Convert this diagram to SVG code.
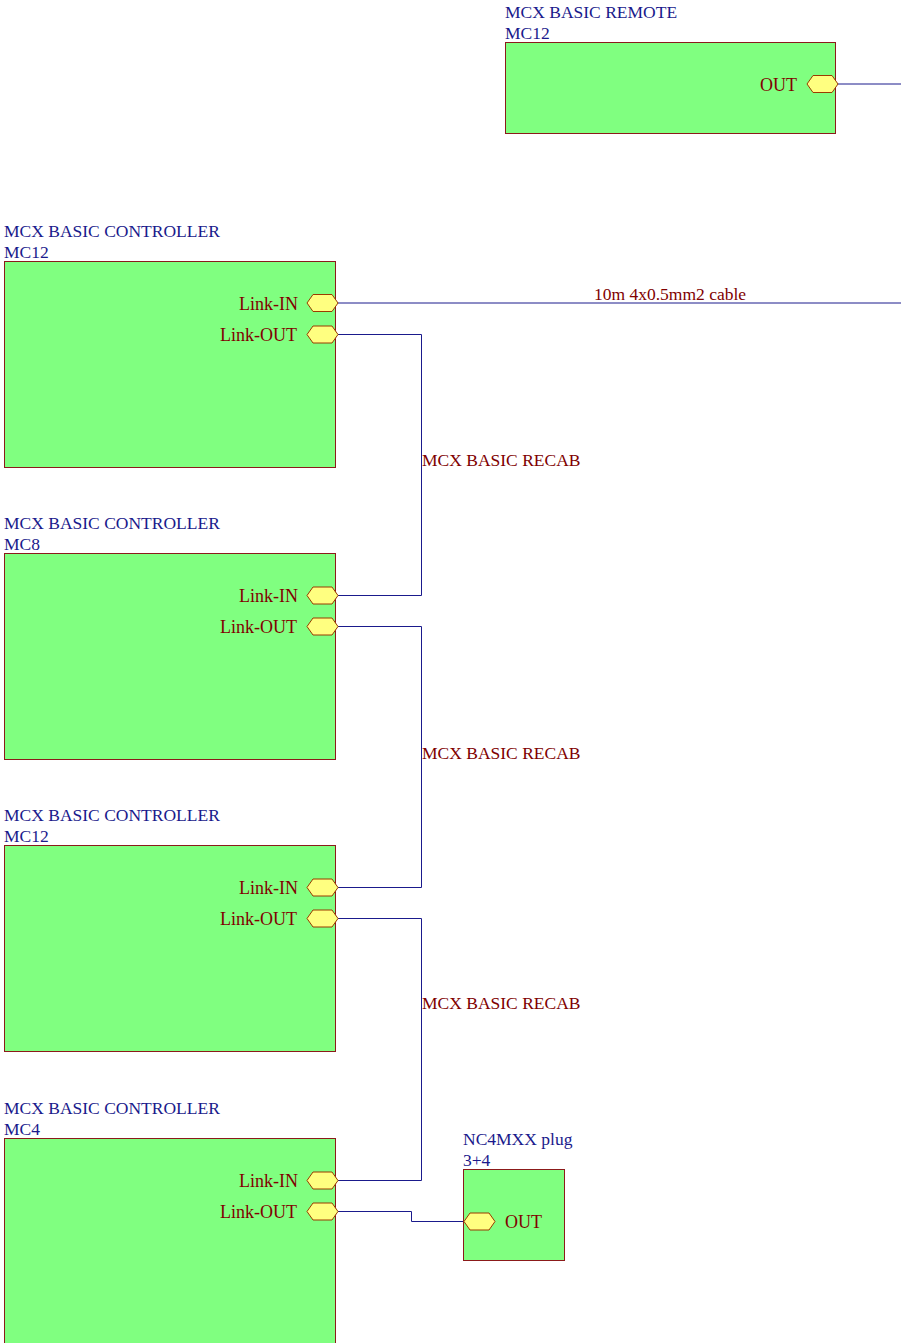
<svg xmlns="http://www.w3.org/2000/svg" width="901" height="1343" viewBox="0 0 901 1343">
<defs>
<style>
.box{fill:#80ff80;stroke:#8b1a1a;stroke-width:1}
.port{fill:#ffff80;stroke:#9a3b00;stroke-width:1}
.title{font-family:"Liberation Serif","Times New Roman",serif;font-size:17.5px;fill:#1a1a8c}
.plabel{font-family:"Liberation Serif","Times New Roman",serif;font-size:18px;fill:#800000}
.clabel{font-family:"Liberation Serif","Times New Roman",serif;font-size:17.5px;fill:#800000}
.wire{fill:none;stroke:#1a1a8c;stroke-width:1}
</style>
<polygon id="hexR" class="port" points="-31,0 -25,-8.5 -6,-8.5 0,0 -6,8.5 -25,8.5"/>
</defs>
<g id="connectors">
<path class="wire" d="M838,84 H901"/>
<path class="wire" d="M338,303 H901"/>
<text class="clabel" x="670" y="300" text-anchor="middle">10m 4x0.5mm2 cable</text>
<path class="wire" d="M338,334.5 H421.5 V595.5 H338"/>
<text class="clabel" x="422" y="466">MCX BASIC RECAB</text>
<path class="wire" d="M338,626.5 H421.5 V887.5 H338"/>
<text class="clabel" x="422" y="759">MCX BASIC RECAB</text>
<path class="wire" d="M338,918.5 H421.5 V1180.5 H338"/>
<text class="clabel" x="422" y="1009">MCX BASIC RECAB</text>
<path class="wire" d="M338,1211.5 H411.5 V1221.5 H463"/>
</g>
<g id="remote">
<text class="title" x="505" y="18">MCX BASIC REMOTE</text>
<text class="title" x="505" y="39">MC12</text>
<rect class="box" x="505.5" y="42.5" width="330" height="91"/>
<use href="#hexR" x="838" y="84"/>
<text class="plabel" x="797" y="91" text-anchor="end">OUT</text>
</g>
<g id="ctrl1">
<text class="title" x="4" y="237">MCX BASIC CONTROLLER</text>
<text class="title" x="4" y="258">MC12</text>
<rect class="box" x="4.5" y="261.5" width="331" height="206"/>
<use href="#hexR" x="338" y="303"/>
<text class="plabel" x="298" y="310" text-anchor="end">Link-IN</text>
<use href="#hexR" x="338" y="334.5"/>
<text class="plabel" x="297" y="341" text-anchor="end">Link-OUT</text>
</g>
<g id="ctrl2">
<text class="title" x="4" y="529">MCX BASIC CONTROLLER</text>
<text class="title" x="4" y="550">MC8</text>
<rect class="box" x="4.5" y="553.5" width="331" height="206"/>
<use href="#hexR" x="338" y="595.5"/>
<text class="plabel" x="298" y="602" text-anchor="end">Link-IN</text>
<use href="#hexR" x="338" y="626.5"/>
<text class="plabel" x="297" y="633" text-anchor="end">Link-OUT</text>
</g>
<g id="ctrl3">
<text class="title" x="4" y="821">MCX BASIC CONTROLLER</text>
<text class="title" x="4" y="842">MC12</text>
<rect class="box" x="4.5" y="845.5" width="331" height="206"/>
<use href="#hexR" x="338" y="887.5"/>
<text class="plabel" x="298" y="894" text-anchor="end">Link-IN</text>
<use href="#hexR" x="338" y="918.5"/>
<text class="plabel" x="297" y="925" text-anchor="end">Link-OUT</text>
</g>
<g id="ctrl4">
<text class="title" x="4" y="1114">MCX BASIC CONTROLLER</text>
<text class="title" x="4" y="1135">MC4</text>
<rect class="box" x="4.5" y="1138.5" width="331" height="210"/>
<use href="#hexR" x="338" y="1180.5"/>
<text class="plabel" x="298" y="1187" text-anchor="end">Link-IN</text>
<use href="#hexR" x="338" y="1211.5"/>
<text class="plabel" x="297" y="1218" text-anchor="end">Link-OUT</text>
</g>
<g id="plug">
<text class="title" x="463" y="1145">NC4MXX plug</text>
<text class="title" x="463" y="1166">3+4</text>
<rect class="box" x="463.5" y="1169.5" width="101" height="91"/>
<use href="#hexR" x="495" y="1221.5"/>
<text class="plabel" x="505" y="1228">OUT</text>
</g>
</svg>
